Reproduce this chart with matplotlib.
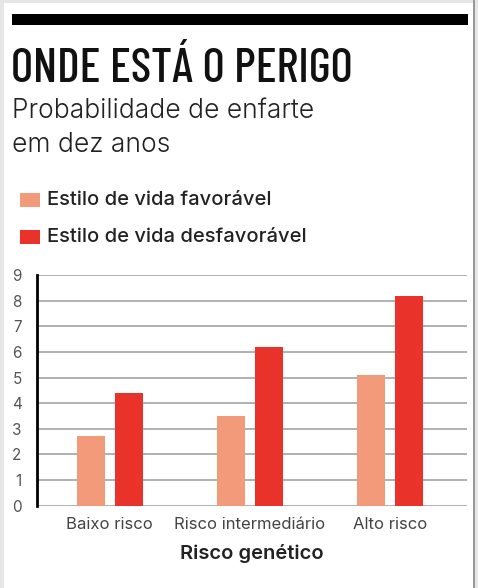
import matplotlib
matplotlib.use("Agg")
import matplotlib.pyplot as plt
from matplotlib.patches import Rectangle
import numpy as np

categories = ["Baixo risco", "Risco intermediário", "Alto risco"]
favoravel = [2.7, 3.5, 5.1]
desfavoravel = [4.4, 6.2, 8.2]
yticks = [0, 1, 2, 3, 4, 5, 6, 7, 8, 9]
series_labels = ["Estilo de vida favorável", "Estilo de vida desfavorável"]

c_fav = "#F39A7A"
c_des = "#E8322A"
SANS = ["Inter", "DejaVu Sans"]
COND = ["Barlow Condensed", "Roboto Condensed", "DejaVu Sans"]

W, H = 478, 588
fig = plt.figure(figsize=(W / 100, H / 100), dpi=100, facecolor="#e6e6e6")

def fx(px):
    return px / W

def fy(py):
    return 1 - py / H

# white panel and frame
fig.patches.append(Rectangle((fx(4), 0), fx(469), fy(3), transform=fig.transFigure,
                             facecolor="white", edgecolor="none", zorder=-2))
fig.patches.append(Rectangle((fx(473), 0), fx(2), 1, transform=fig.transFigure,
                             facecolor="#9a9a9a", edgecolor="none", zorder=-2))
# black top bar
fig.patches.append(Rectangle((fx(12), fy(25)), fx(456), 11 / H, transform=fig.transFigure,
                             facecolor="black", edgecolor="none", zorder=1))

fig.text(fx(11), fy(82), "ONDE ESTÁ O PERIGO", fontsize=34.5, fontweight=500,
         family=COND, color="#111111", va="baseline", ha="left")
fig.text(fx(12), fy(118), "Probabilidade de enfarte", fontsize=19, family=SANS,
         fontweight=300, color="#222222", va="baseline", ha="left")
fig.text(fx(12), fy(152), "em dez anos", fontsize=19, family=SANS,
         fontweight=300, color="#222222", va="baseline", ha="left")

# legend
for i, (lab, col) in enumerate(zip(series_labels, [c_fav, c_des])):
    yc = 200 + i * 37
    fig.patches.append(Rectangle((fx(20), fy(yc + 7)), fx(20), 14 / H,
                                 transform=fig.transFigure, facecolor=col, edgecolor="none"))
    fig.text(fx(47), fy(yc), lab, fontsize=14.5, family=SANS, fontweight=500,
             color="#222222", va="center", ha="left")

ax = fig.add_axes([fx(37), fy(505.7), fx(467 - 37), (505.7 - 275) / H])
x = np.arange(len(categories))
w = 0.2
off = 0.136
ax.bar(x - off, favoravel, w, color=c_fav, zorder=3)
ax.bar(x + off, desfavoravel, w, color=c_des, zorder=3)
ax.set_xlim(-0.52, 2.55)
ax.set_ylim(0, 9)
ax.set_yticks(yticks)
ax.set_yticklabels([str(t) for t in yticks], fontsize=11, color="#555555", family=SANS)
ax.set_xticks(x)
ax.set_xticklabels(categories, fontsize=12, color="#444444", family=SANS)
ax.tick_params(axis="both", length=0)
ax.tick_params(axis="y", pad=11)
ax.tick_params(axis="x", pad=8)
ax.grid(axis="y", color="#aaaaaa", linewidth=1.3, zorder=0)
ax.set_axisbelow(True)
for s in ["top", "right", "bottom"]:
    ax.spines[s].set_visible(False)
ax.spines["left"].set_linewidth(2)
ax.spines["left"].set_color("black")
ax.set_facecolor("none")
ax.set_xlabel("Risco genético", fontsize=14.5, fontweight=600, color="#222222",
              labelpad=9, family=SANS)

fig.savefig("out.png", dpi=100, facecolor=fig.get_facecolor())
